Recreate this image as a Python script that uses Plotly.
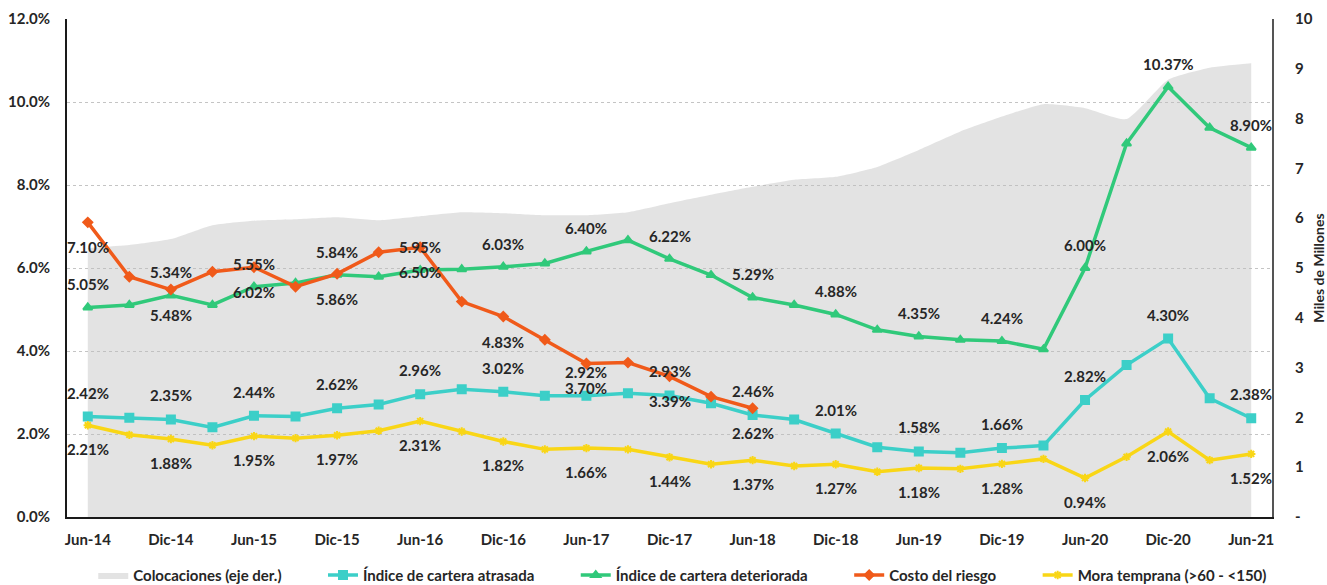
import plotly.graph_objects as go

# Quarterly periods
quarters = [
    "Jun-14", "Sep-14", "Dic-14", "Mar-15", "Jun-15", "Sep-15", "Dic-15", "Mar-16",
    "Jun-16", "Sep-16", "Dic-16", "Mar-17", "Jun-17", "Sep-17", "Dic-17", "Mar-18",
    "Jun-18", "Sep-18", "Dic-18", "Mar-19", "Jun-19", "Sep-19", "Dic-19", "Mar-20",
    "Jun-20", "Sep-20", "Dic-20", "Mar-21", "Jun-21",
]

# Colocaciones, miles de millones (right axis)
colocaciones = [5.40, 5.46, 5.58, 5.86, 5.95, 5.98, 6.02, 5.96, 6.04, 6.12, 6.10, 6.06,
                6.06, 6.12, 6.30, 6.47, 6.63, 6.77, 6.83, 7.03, 7.37, 7.74, 8.04, 8.29,
                8.21, 7.99, 8.78, 9.02, 9.11]

# Ratios in percent (left axis)
cartera_atrasada = [2.42, 2.39, 2.35, 2.16, 2.44, 2.42, 2.62, 2.71, 2.96, 3.08, 3.02, 2.92,
                    2.92, 2.98, 2.93, 2.74, 2.46, 2.35, 2.01, 1.68, 1.58, 1.55, 1.66, 1.72,
                    2.82, 3.66, 4.30, 2.86, 2.38]
cartera_deteriorada = [5.05, 5.11, 5.34, 5.11, 5.55, 5.64, 5.84, 5.79, 5.95, 5.97, 6.03, 6.11,
                       6.40, 6.67, 6.22, 5.83, 5.29, 5.11, 4.88, 4.51, 4.35, 4.27, 4.24, 4.04,
                       6.00, 9.00, 10.37, 9.38, 8.90]
costo_riesgo = [7.10, 5.79, 5.48, 5.91, 6.02, 5.55, 5.86, 6.38, 6.50, 5.19, 4.83, 4.27,
                3.70, 3.72, 3.39, 2.90, 2.62, None, None, None, None, None, None, None,
                None, None, None, None, None]
mora_temprana = [2.21, 1.98, 1.88, 1.73, 1.95, 1.90, 1.97, 2.08, 2.31, 2.06, 1.82, 1.63,
                 1.66, 1.63, 1.44, 1.27, 1.37, 1.23, 1.27, 1.09, 1.18, 1.16, 1.28, 1.40,
                 0.94, 1.45, 2.06, 1.37, 1.52]

left_ticks = [0, 2, 4, 6, 8, 10, 12]
right_ticks = list(range(0, 11))
right_ticktext = ["-"] + [str(v) for v in range(1, 11)]

FONT = "Lato"
TXT = "#262626"
GAP = "\u00a0" * 10  # extra room between legend entries


def bold(size):
    return dict(family=FONT, size=size, color=TXT, weight="bold")


fig = go.Figure()

# Area on the base axis (drawn below the ratio lines)
fig.add_trace(go.Scatter(
    x=quarters, y=colocaciones, name="Colocaciones (eje der.)" + GAP,
    mode="lines", fill="tozeroy", line=dict(width=0, shape="spline", smoothing=0.5),
    fillcolor="rgba(190,190,190,0.43)", xaxis="x", yaxis="y",
))

series = [
    ("Índice de cartera atrasada" + GAP, cartera_atrasada, "#3CCFC8", "square", 8, 24),
    ("Índice de cartera deteriorada" + GAP, cartera_deteriorada, "#30C97A", "triangle-up", 8, 23),
    ("Costo del riesgo" + GAP, costo_riesgo, "#F05A1A", "diamond", 7, -25),
    ("Mora temprana (>60 - <150)", mora_temprana, "#F9D616", "asterisk-open", 7, -24),
]

annotations = []
for name, vals, color, symbol, msize, shift in series:
    fig.add_trace(go.Scatter(
        x=quarters, y=vals, name=name, mode="lines+markers",
        line=dict(color=color, width=3.5),
        marker=dict(symbol=symbol, size=msize, color=color, line=dict(color=color, width=2)),
        xaxis="x", yaxis="y2", connectgaps=False,
    ))
    for i in range(0, len(quarters), 2):
        v = vals[i]
        if v is None:
            continue
        annotations.append(dict(
            x=quarters[i], y=v, xref="x", yref="y2", yshift=shift,
            text=f"{v:.2f}%", showarrow=False, font=bold(15),
        ))

fig.update_layout(
    width=1327, height=585,
    margin=dict(l=67, r=55, t=19, b=68, autoexpand=False),
    plot_bgcolor="white", paper_bgcolor="white",
    font=bold(15),
    showlegend=True,
    legend=dict(orientation="h", x=0.511, xanchor="center", y=-0.117, yanchor="middle",
                font=bold(15), bgcolor="rgba(0,0,0,0)"),
    xaxis=dict(
        type="category", range=[-0.5, len(quarters) - 0.5],
        tickvals=quarters[::2], ticktext=quarters[::2],
        showline=True, linecolor="#1a1a1a", linewidth=2, ticks="",
        showgrid=False, ticklabelstandoff=8, tickfont=bold(15),
    ),
    yaxis=dict(
        side="right", range=[0, 10], tickvals=right_ticks, ticktext=right_ticktext,
        showgrid=False, zeroline=False, showline=True, linecolor="#555555", linewidth=2,
        ticks="", ticklabelstandoff=18, tickfont=bold(15),
        title=dict(text="Miles de Millones", standoff=12, font=bold(14)),
    ),
    yaxis2=dict(
        overlaying="y", side="left", range=[0, 12], tickvals=left_ticks,
        ticktext=[f"{v:.1f}%" for v in left_ticks],
        showgrid=True, gridcolor="#c4c4c4", griddash="dot", gridwidth=1,
        zeroline=False, showline=True, linecolor="#1a1a1a", linewidth=2,
        ticks="", ticklabelstandoff=12, tickfont=bold(15),
    ),
    annotations=annotations,
)

fig.write_html("out.html")
